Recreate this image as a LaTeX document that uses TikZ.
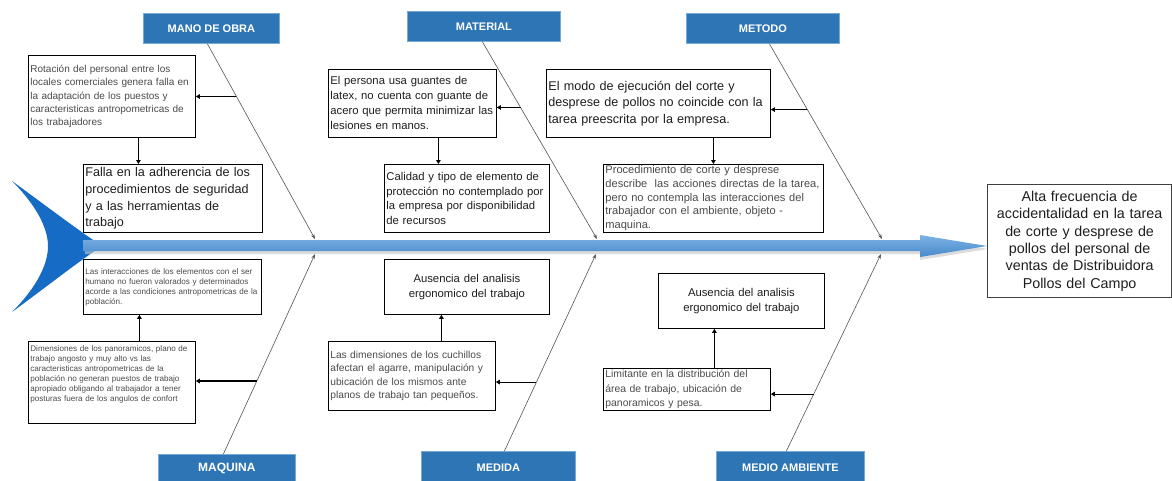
\documentclass[tikz,border=0pt]{standalone}
\usepackage{fontspec}
\setmainfont{Liberation Sans}
\usetikzlibrary{arrows.meta}
\definecolor{catblue}{RGB}{46,117,182}
\definecolor{catedge}{RGB}{120,170,215}
\definecolor{tailblue}{RGB}{22,108,196}
\definecolor{spinetop}{RGB}{125,178,228}
\definecolor{spinebot}{RGB}{72,138,205}
\definecolor{bonegray}{RGB}{85,85,85}
\definecolor{txtdark}{RGB}{30,30,30}
\definecolor{txtgray}{RGB}{75,75,75}
\begin{document}
\begin{tikzpicture}[x=1pt,y=-1pt,
  cat/.style={draw=catedge, line width=0.8pt, fill=catblue, text=white,
    font=\fontsize{11}{13}\selectfont\bfseries, inner sep=0pt, anchor=north west},
  cbox/.style={draw=black, line width=0.8pt, fill=white, anchor=north west,
    inner xsep=2pt, inner ysep=0pt, align=left},
  bone/.style={draw=bonegray, line width=0.6pt, -{Stealth[length=5pt,width=3.5pt]}},
  link/.style={draw=black, line width=1.1pt, -{Triangle[length=4pt,width=4.5pt]}}]
\useasboundingbox (0,0) rectangle (1172,480);
\fill[white] (0,0) rectangle (1172,480);

% tail
\fill[tailblue] (12,181) .. controls (45,205) and (75,228) .. (102,246)
  .. controls (75,264) and (45,288) .. (12,312)
  .. controls (36,288) and (48,265) .. (48,246)
  .. controls (48,228) and (36,205) .. (12,181) -- cycle;

% spine
\fill[gray!45, opacity=0.6] (85,243) -- (920,243) -- (920,238) -- (988,249) -- (920,260) -- (920,254) -- (85,254) -- cycle;
\shade[top color=spinetop, bottom color=spinebot] (83,240) -- (920,240) -- (920,235) -- (987,246) -- (920,257) -- (920,251) -- (83,251) -- cycle;

% head
\node[draw=black!75, line width=1.2pt, fill=white, anchor=north west, minimum width=184pt, minimum height=113pt,
  text width=178pt, align=center, inner sep=0pt, font=\fontsize{14.3}{17.3}\selectfont, text=txtdark] (head) at (987,184)
  {Alta frecuencia de\\accidentalidad en la tarea\\de corte y desprese de\\pollos del personal de\\ventas de Distribuidora\\Pollos del Campo};

% categories
\node[cat, minimum width=136pt, minimum height=30pt] (mano) at (143,13) {MANO DE OBRA};
\node[cat, minimum width=153pt, minimum height=30pt] (material) at (407,11) {MATERIAL};
\node[cat, minimum width=153pt, minimum height=30pt] (metodo) at (686,13) {METODO};
\node[cat, minimum width=137pt, minimum height=28pt, font=\fontsize{12}{14}\selectfont\bfseries] (maquina) at (158,454) {MAQUINA};
\node[cat, minimum width=154pt, minimum height=32pt] (medida) at (421,451) {MEDIDA};
\node[cat, minimum width=148pt, minimum height=32pt] (medio) at (716,451) {MEDIO AMBIENTE};

% bone ends at spine
\coordinate (eMano) at (315,239);
\coordinate (eMat) at (597,239);
\coordinate (eMet) at (882,239);
\coordinate (eMaq) at (315,254);
\coordinate (eMed) at (596,254);
\coordinate (eMA) at (881,254);

\draw[bone] ([xshift=-4pt]mano.south) -- (eMano) coordinate[pos=0.27] (jTL);
\draw[bone] ([xshift=-1.5pt]material.south) -- (eMat) coordinate[pos=0.333] (jTM);
\draw[bone] ([xshift=6.5pt]metodo.south) -- (eMet) coordinate[pos=0.337] (jTR);
\draw[bone] ([xshift=-3.5pt]maquina.north) -- (eMaq) coordinate[pos=0.365] (jBL);
\draw[bone] ([xshift=6pt]medida.north) -- (eMed) coordinate[pos=0.35] (jBM);
\draw[bone] ([xshift=-4pt]medio.north) -- (eMA) coordinate[pos=0.289] (jBR);

% cause boxes top
\node[cbox, minimum width=167pt, minimum height=82pt, text width=163pt, text=txtgray,
  font=\fontsize{10}{13.3}\selectfont] (tl1) at (28,55)
  {Rotación del personal entre los\\\mbox{locales comerciales genera falla en}\\la adaptación de los puestos y\\\mbox{caracteristicas antropometricas de}\\los trabajadores};
\node[cbox, minimum width=179pt, minimum height=68pt, text width=175pt, text=txtdark,
  font=\fontsize{12.6}{16.8}\selectfont] (tl2) at (83,164)
  {Falla en la adherencia de los\\procedimientos de seguridad\\y a las herramientas de\\trabajo};
\node[cbox, minimum width=168pt, minimum height=68pt, text width=164pt, text=txtdark,
  font=\fontsize{11.3}{15}\selectfont] (tm1) at (328,69)
  {El persona usa guantes de\\latex, no cuenta con guante de\\\mbox{acero que permita minimizar las}\\lesiones en manos.};
\node[cbox, minimum width=165pt, minimum height=68pt, text width=161pt, text=txtdark,
  font=\fontsize{11.3}{14.5}\selectfont] (tm2) at (384,164)
  {Calidad y tipo de elemento de\\protección no contemplado por\\la empresa por disponibilidad\\de recursos};
\node[cbox, minimum width=224pt, minimum height=68pt, text width=220pt, text=txtdark,
  font=\fontsize{12.6}{16.5}\selectfont] (tr1) at (546,69)
  {El modo de ejecución del corte y\\\mbox{desprese de pollos no coincide con la}\\tarea preescrita por la empresa.};
\node[cbox, minimum width=220pt, minimum height=68pt, text width=216pt, text=txtgray,
  font=\fontsize{11.1}{13.7}\selectfont] (tr2) at (603,164)
  {Procedimiento de corte y desprese\\\mbox{describe \ las acciones directas de la tarea,}\\pero no contempla las interacciones del\\trabajador con el ambiente, objeto -\\maquina.};

% cause boxes bottom
\node[cbox, minimum width=178pt, minimum height=55pt, text width=174pt, text=txtgray,
  font=\fontsize{8.1}{10}\selectfont] (bl1) at (83,259)
  {Las interacciones de los elementos con el ser\\humano no fueron valorados y determinados\\\mbox{acorde a las condiciones antropometricas de la}\\población.};
\node[cbox, minimum width=167pt, minimum height=82pt, text width=163pt, text=txtgray,
  font=\fontsize{8.1}{10}\selectfont] (bl2) at (28,341)
  {Dimensiones de los panoramicos, plano de\\trabajo angosto y muy alto vs las\\caracteristicas antropometricas de la\\población no generan puestos de trabajo\\apropiado obligando al trabajador a tener\\posturas fuera de los angulos de confort\par\vspace*{16pt}};
\node[cbox, minimum width=165pt, minimum height=55pt, text width=161pt, text=txtdark, align=center,
  font=\fontsize{11.3}{15}\selectfont] (bm1) at (384,259)
  {Ausencia del analisis\\ergonomico del trabajo};
\node[cbox, minimum width=167pt, minimum height=69pt, text width=163pt, text=txtgray,
  font=\fontsize{10.2}{13.5}\selectfont] (bm2) at (328,341)
  {Las dimensiones de los cuchillos\\afectan el agarre, manipulación y\\ubicación de los mismos ante\\planos de trabajo tan pequeños.};
\node[cbox, minimum width=166pt, minimum height=55pt, text width=162pt, text=txtdark, align=center,
  font=\fontsize{11.3}{15}\selectfont] (br1) at (658,273)
  {Ausencia del analisis\\ergonomico del trabajo};
\node[cbox, minimum width=167pt, minimum height=42pt, text width=163pt, text=txtgray,
  font=\fontsize{10.4}{14.3}\selectfont] (br2) at (603,368)
  {Limitante en la distribución del\\área de trabajo, ubicación de\\panoramicos y pesa.};

% links from bones
\draw[link] (jTL) -- (jTL -| tl1.east);
\draw[link] (jTM) -- (jTM -| tm1.east);
\draw[link] (jTR) -- (jTR -| tr1.east);
\draw[link] (jBL) -- (jBL -| bl2.east);
\draw[link] (jBM) -- (jBM -| bm2.east);
\draw[link] (jBR) -- (jBR -| br2.east);

% vertical links
\draw[link] ([xshift=26.5pt]tl1.south) -- ([xshift=26.5pt]tl1.south |- tl2.north);
\draw[link] ([xshift=26pt]tm1.south) -- ([xshift=26pt]tm1.south |- tm2.north);
\draw[link] (tr2.north |- tr1.south) -- (tr2.north);
\draw[link] ([xshift=27.5pt]bl2.north) -- ([xshift=27.5pt]bl2.north |- bl1.south);
\draw[link] ([xshift=29.5pt]bm2.north) -- ([xshift=29.5pt]bm2.north |- bm1.south);
\draw[link] ([xshift=27.5pt]br2.north) -- ([xshift=27.5pt]br2.north |- br1.south);
\end{tikzpicture}
\end{document}
